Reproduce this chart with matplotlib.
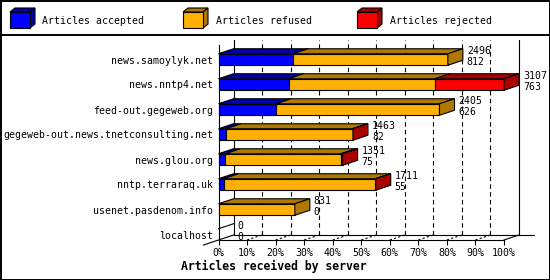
import numpy as np
import matplotlib
matplotlib.use('Agg')
import matplotlib.pyplot as plt
from matplotlib.patches import Polygon, Rectangle

# data
servers = ['news.samoylyk.net', 'news.nntp4.net', 'feed-out.gegeweb.org',
           'gegeweb-out.news.tnetconsulting.net', 'news.glou.org',
           'nntp.terraraq.uk', 'usenet.pasdenom.info', 'localhost']
accepted = [812, 763, 626, 82, 75, 55, 0, 0]
refused = [1684, 1592, 1779, 1378, 1256, 1653, 831, 0]
rejected = [0, 752, 0, 3, 20, 3, 0, 0]
series_names = ['Articles accepted', 'Articles refused', 'Articles rejected']
xticks = [0, 10, 20, 30, 40, 50, 60, 70, 80, 90, 100]

front = ['#0000ff', '#ffb000', '#ff0000']
shade = ['#0000aa', '#b07800', '#aa0000']
mono = 'DejaVu Sans Mono'
fs = 7.1

total = [a + r + j for a, r, j in zip(accepted, refused, rejected)]
vmax = max(total)
pct = lambda v: 100.0 * v / vmax

W, H = 550, 280
fig = plt.figure(figsize=(W / 100, H / 100), dpi=100)

# pixel overlay for frame and legend
ov = fig.add_axes([0, 0, 1, 1])
ov.set_xlim(0, W)
ov.set_ylim(H, 0)
ov.axis('off')
ov.add_patch(Rectangle((0.5, 0.5), W - 1, H - 1, fill=False, lw=1.4, ec='black'))
ov.plot([0, W], [35, 35], color='black', lw=1.4)
for k, (cx, tx) in enumerate([(10, 42), (183, 216), (357, 390)]):
    ov.add_patch(Polygon([(cx, 12), (cx + 20, 12), (cx + 25, 8), (cx + 5, 8)],
                         fc=shade[k], ec='black', lw=0.8))
    ov.add_patch(Polygon([(cx + 20, 12), (cx + 25, 8), (cx + 25, 24), (cx + 20, 28)],
                         fc=shade[k], ec='black', lw=0.8))
    ov.add_patch(Rectangle((cx, 12), 20, 16, fc=front[k], ec='black', lw=0.8))
    ov.text(tx, 20.5, series_names[k], family=mono, fontsize=fs, va='center')
ov.text(273.5, 266.5, 'Articles received by server', family=mono,
        fontsize=8.3, fontweight='bold', ha='center', va='center')

# main axes: front plane of the bars
x0, x1, yb, yt = 218.5, 504.0, 240.0, 45.0
ax = fig.add_axes([x0 / W, 1 - yb / H, (x1 - x0) / W, (yb - yt) / H])
ax.set_facecolor('none')
ax.set_xlim(0, 100)
row_px = 25.0
ylo, yhi = (yb - 59.5) / row_px, (yt - 59.5) / row_px
ax.set_ylim(ylo, yhi)
DX = 15.0 * 100 / (x1 - x0)
DY = -5.0 / row_px
h = 0.46

for s in ['top', 'right']:
    ax.spines[s].set_visible(False)
for s in ['left', 'bottom']:
    ax.spines[s].set_linewidth(0.8)

# back wall
ax.plot([DX, DX], [ylo + DY, yhi + DY], color='black', lw=0.8, clip_on=False, zorder=1)
ax.plot([100 + DX, 100 + DX], [ylo + DY, yhi + DY], color='black', lw=0.8, clip_on=False, zorder=1)
ax.plot([DX, 100 + 2 * DX], [ylo + DY, ylo + DY], color='black', lw=0.8, clip_on=False, zorder=1)
ax.plot([-DX, DX], [ylo - DY, ylo + DY], color='black', lw=0.8, clip_on=False, zorder=1)
ax.plot([100, 100 + DX], [ylo, ylo + DY], color='black', lw=0.8, clip_on=False, zorder=1)
for v in xticks[1:-1]:
    ax.plot([v + DX, v + DX], [ylo + DY, yhi + DY], color='black', lw=0.8,
            dashes=(4, 3), clip_on=False, zorder=1)
    ax.plot([v, v + DX], [ylo, ylo + DY], color='black', lw=0.8,
            dashes=(2, 2), clip_on=False, zorder=1)

# bars
y = np.arange(len(servers))
segs = [accepted, refused, rejected]
left = np.zeros(len(servers))
for k in range(3):
    w = np.array([pct(v) for v in segs[k]])
    m = w > 0
    ax.barh(y[m], w[m], left=left[m], height=h, color=front[k],
            edgecolor='black', linewidth=0.8, zorder=3, clip_on=False)
    for i in y[m]:
        a, b = left[i], left[i] + w[i]
        top = i - h / 2
        ax.add_patch(Polygon([(a, top), (b, top), (b + DX, top + DY), (a + DX, top + DY)],
                             fc=shade[k], ec='black', lw=0.8, zorder=3, clip_on=False))
    left = left + w

for i in y:
    top, bot = i - h / 2, i + h / 2
    end = pct(total[i])
    last = max([k for k in range(3) if segs[k][i] > 0], default=None)
    if last is None:
        ax.plot([0, DX], [top, top + DY], color='black', lw=0.8, zorder=3, clip_on=False)
    else:
        ax.add_patch(Polygon([(end, top), (end + DX, top + DY), (end + DX, bot + DY), (end, bot)],
                             fc=shade[last], ec='black', lw=0.8, zorder=3, clip_on=False))
    ax.annotate(str(total[i]), xy=(end + DX, top + DY), xytext=(4, -4.8),
                textcoords='offset pixels', family=mono, fontsize=fs, va='baseline',
                annotation_clip=False, zorder=4)
    ax.annotate(str(accepted[i]), xy=(end + DX, top + DY), xytext=(4, -16.3),
                textcoords='offset pixels', family=mono, fontsize=fs, va='baseline',
                annotation_clip=False, zorder=4)

ax.set_xticks(xticks)
ax.set_xticklabels([f'{v}%' for v in xticks], family=mono, fontsize=fs)
ax.set_yticks(y)
ax.set_yticklabels(servers, family=mono, fontsize=fs)
ax.tick_params(axis='x', length=3.5, width=0.8, pad=2.5)
ax.tick_params(axis='y', length=0, pad=4)

fig.savefig('out.png', dpi=100, facecolor='white')
